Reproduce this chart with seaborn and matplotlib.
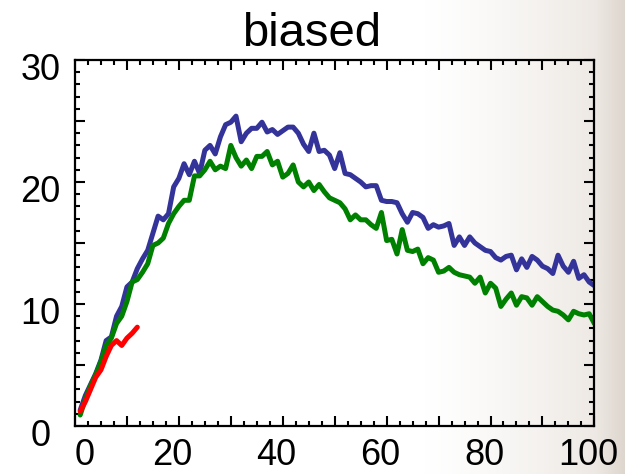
import numpy as np
import pandas as pd
import matplotlib
matplotlib.use("Agg")
import matplotlib.pyplot as plt
from matplotlib.ticker import MultipleLocator, FuncFormatter
from matplotlib.transforms import ScaledTranslation
import seaborn as sns

# ---- data ----
x_blue = list(range(1, 101))
blue = [1.3, 2.5, 3.4, 4.3, 5.4, 7.0, 7.3, 9.0, 9.8, 11.4,
        11.8, 12.9, 13.7, 14.4, 15.8, 17.2, 16.9, 17.4, 19.6, 20.3,
        21.5, 20.6, 21.7, 20.7, 22.6, 23.0, 22.3, 23.7, 24.7, 24.9,
        25.4, 23.3, 24.0, 24.4, 24.4, 24.9, 24.1, 24.3, 23.9, 24.2,
        24.5, 24.5, 24.0, 23.1, 22.5, 24.0, 22.5, 22.6, 22.2, 21.1,
        22.4, 20.7, 20.6, 20.3, 20.0, 19.6, 19.7, 19.7, 18.5, 18.4,
        18.4, 18.3, 17.4, 16.7, 17.5, 17.4, 17.1, 16.2, 16.5, 16.3,
        16.4, 16.6, 14.8, 15.5, 14.8, 15.5, 15.0, 14.7, 14.4, 14.3,
        13.8, 13.6, 13.9, 14.0, 12.8, 13.7, 13.0, 13.9, 13.6, 13.1,
        12.9, 12.5, 14.0, 13.1, 12.6, 13.5, 12.1, 12.4, 11.8, 11.5]
x_green = list(range(1, 101))
green = [0.9, 2.2, 3.3, 4.2, 5.3, 6.6, 7.2, 8.4, 9.0, 10.2,
         11.8, 12.0, 12.6, 13.3, 14.8, 15.0, 15.4, 16.6, 17.4, 18.0,
         18.5, 18.5, 20.5, 20.5, 21.0, 21.7, 21.0, 21.3, 21.1, 23.0,
         22.0, 21.3, 21.8, 21.1, 22.1, 22.1, 22.5, 21.4, 21.7, 20.4,
         20.7, 21.4, 20.0, 19.6, 20.0, 19.3, 19.8, 19.2, 18.7, 18.5,
         18.3, 17.8, 16.9, 17.3, 16.9, 16.9, 16.5, 16.2, 17.5, 15.2,
         15.3, 14.1, 16.1, 14.4, 14.3, 14.5, 13.3, 13.8, 13.6, 12.6,
         12.7, 13.0, 12.6, 12.4, 12.3, 12.2, 11.7, 12.2, 10.9, 11.7,
         11.3, 9.8, 10.4, 10.9, 9.9, 10.6, 10.5, 9.9, 10.6, 10.2,
         9.8, 9.5, 9.4, 9.1, 8.7, 9.4, 9.2, 9.1, 9.2, 8.4]
x_red = list(range(1, 13))
red = [1.2, 2.0, 3.0, 4.0, 4.6, 5.7, 6.6, 7.0, 6.6, 7.2, 7.6, 8.1]

title = "biased"
x_tick_labels = [0, 20, 40, 60, 80, 100]
y_tick_labels = [0, 10, 20, 30]

df = pd.concat([
    pd.DataFrame({"x": x_blue, "y": blue, "s": "blue"}),
    pd.DataFrame({"x": x_green, "y": green, "s": "green"}),
    pd.DataFrame({"x": x_red, "y": red, "s": "red"}),
], ignore_index=True)
palette = {"blue": "#333399", "green": "#008000", "red": "#ff0000"}

sns.set_theme(style="ticks")
plt.rcParams["font.family"] = ["Liberation Sans", "DejaVu Sans"]
plt.rcParams["text.color"] = "black"
plt.rcParams["xtick.labelcolor"] = "black"
plt.rcParams["ytick.labelcolor"] = "black"

fig = plt.figure(figsize=(6.25, 4.74), dpi=100)
fig.patch.set_facecolor("white")

# background: white on the left fading to a light stone tone on the right
bg = fig.add_axes([0, 0, 1, 1], zorder=0)
bg.set_axis_off()
w = 625
t = np.linspace(0, 1, w)
fade = np.clip((t - 0.68) / 0.28, 0, 1) ** 1.3
edge = np.clip((t - 0.955) / 0.045, 0, 1)
base = np.array([1.0, 1.0, 1.0])
tone = np.array([0.93, 0.91, 0.89])
dark = np.array([0.87, 0.84, 0.81])
row = base[None, :] * (1 - fade[:, None]) + tone[None, :] * fade[:, None]
row = row * (1 - edge[:, None]) + dark[None, :] * edge[:, None]
img = np.repeat(row[None, :, :], 10, axis=0)
bg.imshow(img, aspect="auto", extent=[0, 1, 0, 1])

ax = fig.add_axes([0.12, 0.1013, 0.831, 0.7721], zorder=1)
ax.patch.set_alpha(0)

sns.lineplot(data=df, x="x", y="y", hue="s", palette=palette, lw=3.6,
             legend=False, ax=ax, sort=False, estimator=None)

ax.set_xlim(0, 100)
ax.set_ylim(0, 30)
ax.set_xlabel("")
ax.set_ylabel("")
fig.text(0.4985, 1 - 46.5 / 474, title, fontsize=34, ha="center",
         va="baseline", color="black")

ax.xaxis.set_major_locator(MultipleLocator(10))
ax.xaxis.set_minor_locator(MultipleLocator(2.5))
ax.yaxis.set_major_locator(MultipleLocator(5))
ax.yaxis.set_minor_locator(MultipleLocator(1))
ax.xaxis.set_major_formatter(FuncFormatter(
    lambda v, p: f"{int(round(v))}" if int(round(v)) in x_tick_labels else ""))
ax.yaxis.set_major_formatter(FuncFormatter(
    lambda v, p: f"{int(round(v))}" if int(round(v)) in y_tick_labels else ""))

ax.tick_params(which="both", direction="in", top=True, right=True,
               color="black", width=1.5)
ax.tick_params(which="major", length=7.5, labelsize=26)
ax.tick_params(axis="x", which="major", pad=9)
ax.tick_params(axis="y", which="major", pad=25)
ax.tick_params(which="minor", length=3.3)
for sp in ax.spines.values():
    sp.set_visible(True)
    sp.set_color("black")
    sp.set_linewidth(1.6)

fig.canvas.draw()
for lab in ax.get_yticklabels():
    lab.set_ha("center")
    lab.set_transform(lab.get_transform() +
                      ScaledTranslation(0, -5 / 72, fig.dpi_scale_trans))
for lab in ax.get_xticklabels():
    if lab.get_text() == "0":
        lab.set_ha("left")
    else:
        lab.set_transform(lab.get_transform() +
                          ScaledTranslation(-4.5 / 72, 0, fig.dpi_scale_trans))

fig.savefig("out.png", dpi=100)
